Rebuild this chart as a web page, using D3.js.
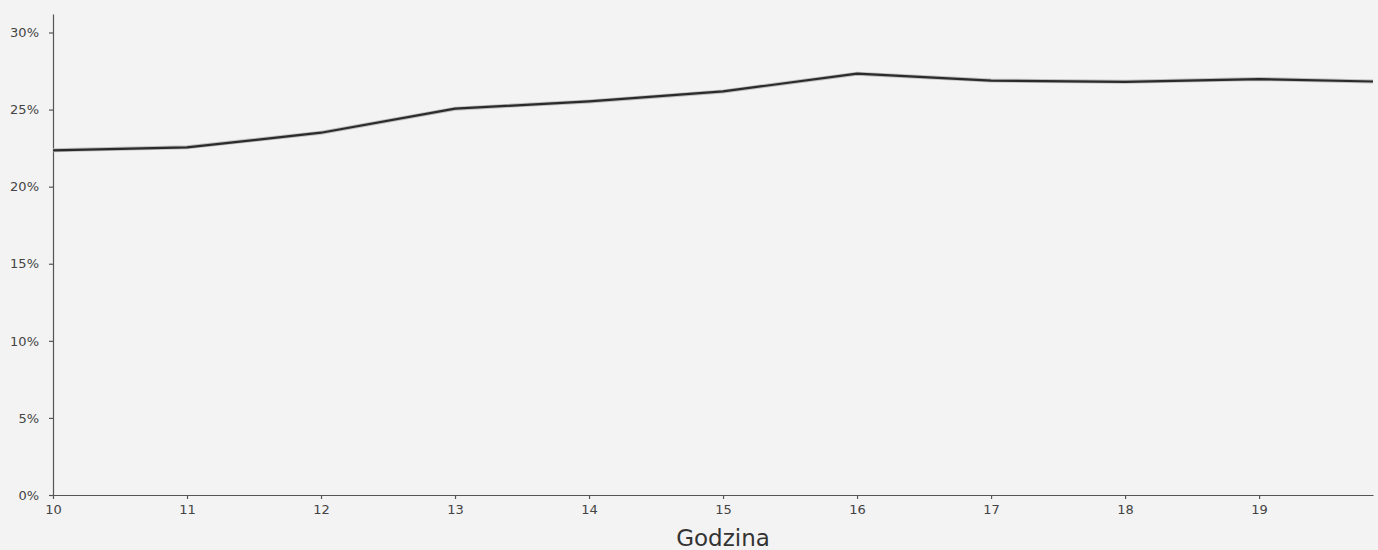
<!DOCTYPE html>
<html lang="pl">
<head>
    <meta charset="UTF-8">
    <title>Godzina</title>
    <script src="https://cdn.jsdelivr.net/npm/d3@7"></script>
    <style>
        html, body { margin: 0; padding: 0; background: #f3f3f3; }
        svg { display: block; }
        .axis text { font-family: "DejaVu Sans", sans-serif; font-size: 13px; fill: #444; }
        .axis path, .axis line { stroke: #555; stroke-width: 1.2; }
    </style>
</head>
<body>
    <div id="chart"></div>
    <script>
        var w = 1378;
        var h = 550;
        var margin = { top: 14, right: 5, bottom: 55, left: 53 };

        // data
        var hours = [10, 11, 12, 13, 14, 15, 16, 17, 18, 19, 19.85];
        var share = [22.36, 22.55, 23.5, 25.06, 25.53, 26.18, 27.33, 26.88, 26.8, 26.98, 26.82];
        var xTicks = [10, 11, 12, 13, 14, 15, 16, 17, 18, 19];
        var yTicks = [0, 5, 10, 15, 20, 25, 30];

        var data = hours.map((d, i) => ({ hour: d, value: share[i] }));

        var iw = w - margin.left - margin.right;
        var ih = h - margin.top - margin.bottom;

        var svg = d3.select("#chart")
            .append("svg")
            .attr("width", w)
            .attr("height", h)
            .style("background", "#f3f3f3");

        var g = svg.append("g")
            .attr("transform", `translate(${margin.left},${margin.top})`);

        var x = d3.scaleLinear()
            .domain([10, 19.85])
            .range([0, iw]);

        var y = d3.scaleLinear()
            .domain([0, 31.2])
            .range([ih, 0]);

        // y axis
        g.append("g")
            .attr("class", "axis")
            .call(d3.axisLeft(y).tickValues(yTicks).tickFormat(d => d + "%").tickSize(4).tickPadding(10).tickSizeOuter(0));

        // x axis
        g.append("g")
            .attr("class", "axis")
            .attr("transform", `translate(0,${ih})`)
            .call(d3.axisBottom(x).tickValues(xTicks).tickFormat(d3.format("d")).tickSize(4).tickPadding(6).tickSizeOuter(0));

        // line
        var line = d3.line()
            .x(d => x(d.hour))
            .y(d => y(d.value));

        g.append("path")
            .datum(data)
            .attr("fill", "none")
            .attr("stroke", "#bdbdbd")
            .attr("stroke-width", 4)
            .attr("d", line);

        g.append("path")
            .datum(data)
            .attr("fill", "none")
            .attr("stroke", "#2b2b2b")
            .attr("stroke-width", 2.2)
            .attr("stroke-linejoin", "round")
            .attr("d", line);

        // x label
        svg.append("text")
            .attr("x", 723)
            .attr("y", 546)
            .attr("text-anchor", "middle")
            .attr("font-family", "DejaVu Sans, sans-serif")
            .attr("font-size", "23px")
            .attr("fill", "#333")
            .text("Godzina");
    </script>
</body>
</html>
